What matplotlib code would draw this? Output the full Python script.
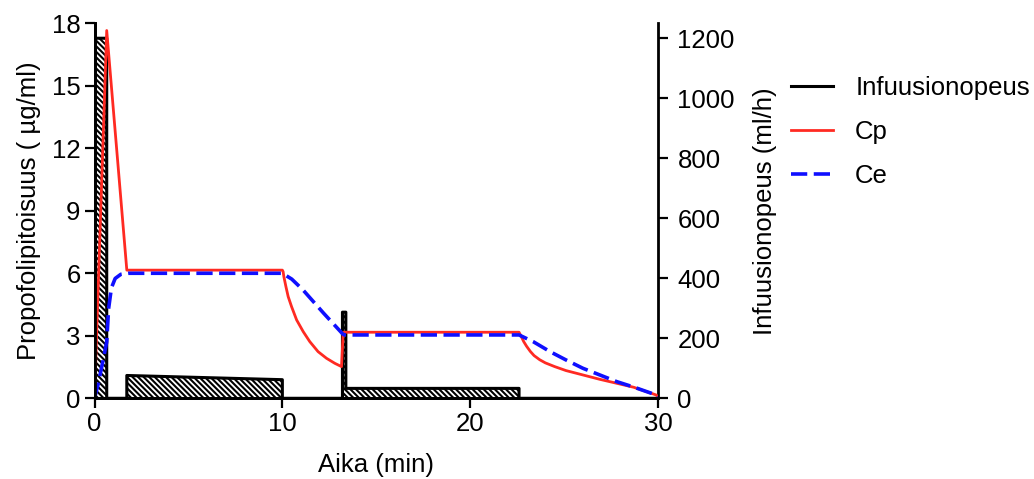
import numpy as np
import matplotlib.pyplot as plt

plt.rcParams['font.family'] = ['Liberation Sans', 'DejaVu Sans']
plt.rcParams['font.size'] = 18.5
plt.rcParams['hatch.linewidth'] = 1.5

# infusion rate (ml/h), step profile
inf_t = [0, 0, 0.65, 0.65, 1.72, 1.72, 10.0, 10.0, 13.2, 13.2, 13.38, 13.38, 22.6, 22.6, 30]
inf_r = [0, 1200, 1200, 0, 0, 76, 62, 0, 0, 287, 287, 33, 33, 0, 0]

# plasma concentration Cp (ug/ml)
cp_t = [0, 0.65, 1.72, 10.0, 10.04, 10.08, 10.19, 10.31, 10.49, 10.76, 11.11, 11.46,
        11.9, 12.35, 12.79, 13.15, 13.24, 22.6, 22.7, 22.85, 23.0, 23.2, 23.4, 23.7,
        24.0, 24.5, 25.1, 26.0, 26.9, 27.8, 28.7, 29.9, 30]
cp = [0, 17.65, 6.15, 6.15, 6.08, 5.84, 5.36, 4.88, 4.40, 3.76, 3.20, 2.72,
      2.24, 1.92, 1.68, 1.52, 3.17, 3.17, 3.0, 2.72, 2.5, 2.25, 2.05, 1.85,
      1.7, 1.52, 1.33, 1.12, 0.91, 0.72, 0.53, 0.16, 0.05]

# effect-site concentration Ce (ug/ml)
ce_t = [0, 0.2, 0.45, 0.65, 0.75, 0.9, 1.1, 1.4, 1.8, 10.0, 10.5, 11.1, 12.2, 13.2,
        13.3, 22.6, 23.35, 24.25, 25.1, 26.0, 26.9, 27.8, 28.7, 29.9, 30]
ce = [0, 0.7, 1.8, 2.7, 4.3, 5.3, 5.75, 5.95, 6.0, 6.0, 5.72, 5.2, 4.08, 3.1,
      3.04, 3.04, 2.72, 2.24, 1.84, 1.44, 1.12, 0.8, 0.54, 0.16, 0.05]

fig = plt.figure(figsize=(10.34, 4.79), dpi=100)
ax = fig.add_axes([0.0914, 0.1685, 0.545, 0.783])
ax2 = ax.twinx()

ax2.fill_between(inf_t, inf_r, 0, facecolor='white', edgecolor='black',
                 hatch='\\\\\\\\\\\\', linewidth=0)
ax2.plot(inf_t, inf_r, color='black', lw=2.2, label='Infuusionopeus')

ax.plot(cp_t, cp, color='#ff2a22', lw=2, label='Cp')
ax.plot(ce_t, ce, color='#0f0fff', lw=2.6, ls=(0, (4.5, 1.8)), label='Ce')

ax.set_zorder(ax2.get_zorder() + 1)
ax.patch.set_visible(False)

ax.set_xlim(0, 30)
ax.set_ylim(0, 18)
ax2.set_ylim(0, 1250)
ax.set_xticks([0, 10, 20, 30])
ax.set_yticks([0, 3, 6, 9, 12, 15, 18])
ax2.set_yticks([0, 200, 400, 600, 800, 1000, 1200])

for a in (ax, ax2):
    a.spines['top'].set_visible(False)
    for s in a.spines.values():
        s.set_linewidth(2)
    a.tick_params(direction='out', length=7, width=1.6, pad=3)
ax.spines['right'].set_visible(False)
ax2.tick_params(axis='y', pad=7)

ax.set_xlabel('Aika (min)', labelpad=12)
ax.set_ylabel('Propofolipitoisuus ( µg/ml)', labelpad=8)
ax2.set_ylabel('Infuusionopeus (ml/h)', labelpad=13)

h2, l2 = ax2.get_legend_handles_labels()
h1, l1 = ax.get_legend_handles_labels()
fig.legend(h2 + h1, l2 + l1, loc='upper left', bbox_to_anchor=(0.755, 0.862),
           frameon=False, handlelength=1.65, handletextpad=0.85, labelspacing=0.78,
           borderaxespad=0)

fig.savefig('out.png', dpi=100)
